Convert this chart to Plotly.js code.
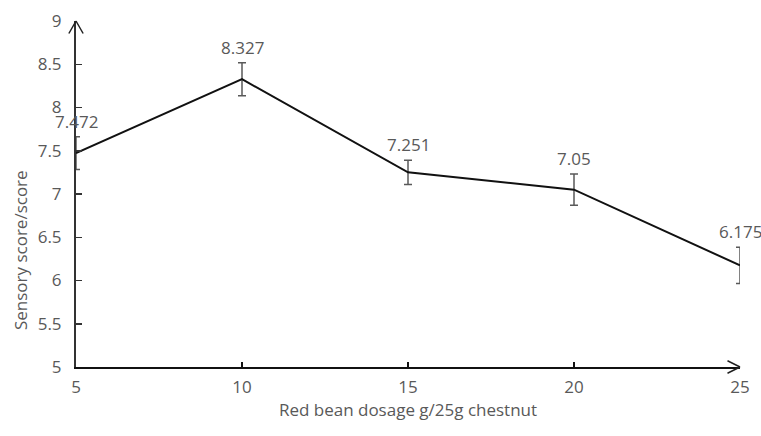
<!DOCTYPE html>
<html>
<head>
<meta charset="utf-8">
<script src="https://cdn.plot.ly/plotly-3.0.1.min.js"></script>
<style>html,body{margin:0;padding:0;background:#fff;}#chart{width:761px;height:436px;}</style>
</head>
<body>
<div id="chart"></div>
<script>
// Data
const dosage = [5, 10, 15, 20, 25];
const score = [7.472, 8.327, 7.251, 7.05, 6.175];
const scoreErr = [0.19, 0.19, 0.14, 0.18, 0.21];
const labels = ['7.472', '8.327', '7.251', '7.05', '6.175'];
const xTicks = [5, 10, 15, 20, 25];

const FONT = 'Open Sans';
const TXT = '#595959';

const trace = {
  x: dosage, y: score, type: 'scatter', mode: 'lines',
  line: {color: '#111111', width: 2},
  error_y: {type: 'data', array: scoreErr, visible: true, color: '#595959', thickness: 1.5, width: 4},
  cliponaxis: false, hoverinfo: 'none'
};

const annotations = dosage.map((d, i) => ({
  x: d, y: score[i] + scoreErr[i], xref: 'x', yref: 'y',
  text: labels[i], showarrow: false, yanchor: 'bottom', yshift: 2,
  font: {family: FONT, size: 17, color: TXT}
}));

// axis arrowheads (pixel offsets)
function arm(x, y, ax, ay, col) {
  return {x: x, y: y, xref: 'x', yref: 'y', text: '', showarrow: true, arrowhead: 0,
    arrowwidth: 1.5, arrowcolor: col, ax: ax, ay: ay, standoff: 0, startstandoff: 0};
}
annotations.push(arm(5, 9, -8, 14, '#222'));
annotations.push(arm(5, 9, 8, 14, '#222'));
annotations.push(arm(25, 5, -14, -7, '#222'));
annotations.push(arm(25, 5, -14, 7, '#222'));

// y title
annotations.push({
  xref: 'paper', yref: 'paper', x: 0, y: 0.338, xshift: -56, textangle: -90,
  text: 'Sensory score/score', showarrow: false, xanchor: 'center', yanchor: 'middle',
  font: {family: FONT, size: 17, color: TXT}
});

const layout = {
  width: 761, height: 436,
  margin: {l: 76, r: 21, t: 21, b: 69},
  paper_bgcolor: '#fff', plot_bgcolor: '#fff',
  showlegend: false,
  font: {family: FONT, size: 17, color: TXT},
  xaxis: {
    range: [5, 25], tickvals: xTicks, ticktext: xTicks.map(String),
    showgrid: false, zeroline: false, showline: true, linecolor: '#111', linewidth: 1.5,
    ticks: 'inside', ticklen: 5, tickcolor: '#111', tickwidth: 1.5,
    ticklabelstandoff: 4,
    tickfont: {family: FONT, size: 17, color: TXT},
    title: {text: 'Red bean dosage g/25g chestnut', font: {family: FONT, size: 17, color: TXT}, standoff: 3},
    fixedrange: true
  },
  yaxis: {
    range: [5, 9], dtick: 0.5, tick0: 5,
    showgrid: false, zeroline: false, showline: true, linecolor: '#333', linewidth: 2,
    ticks: 'inside', ticklen: 6, tickcolor: '#333', tickwidth: 1.5,
    ticklabelstandoff: 9,
    tickfont: {family: FONT, size: 17, color: TXT},
    fixedrange: true
  },
  annotations: annotations
};

Plotly.newPlot('chart', [trace], layout, {staticPlot: true, displayModeBar: false});
</script>
</body>
</html>
